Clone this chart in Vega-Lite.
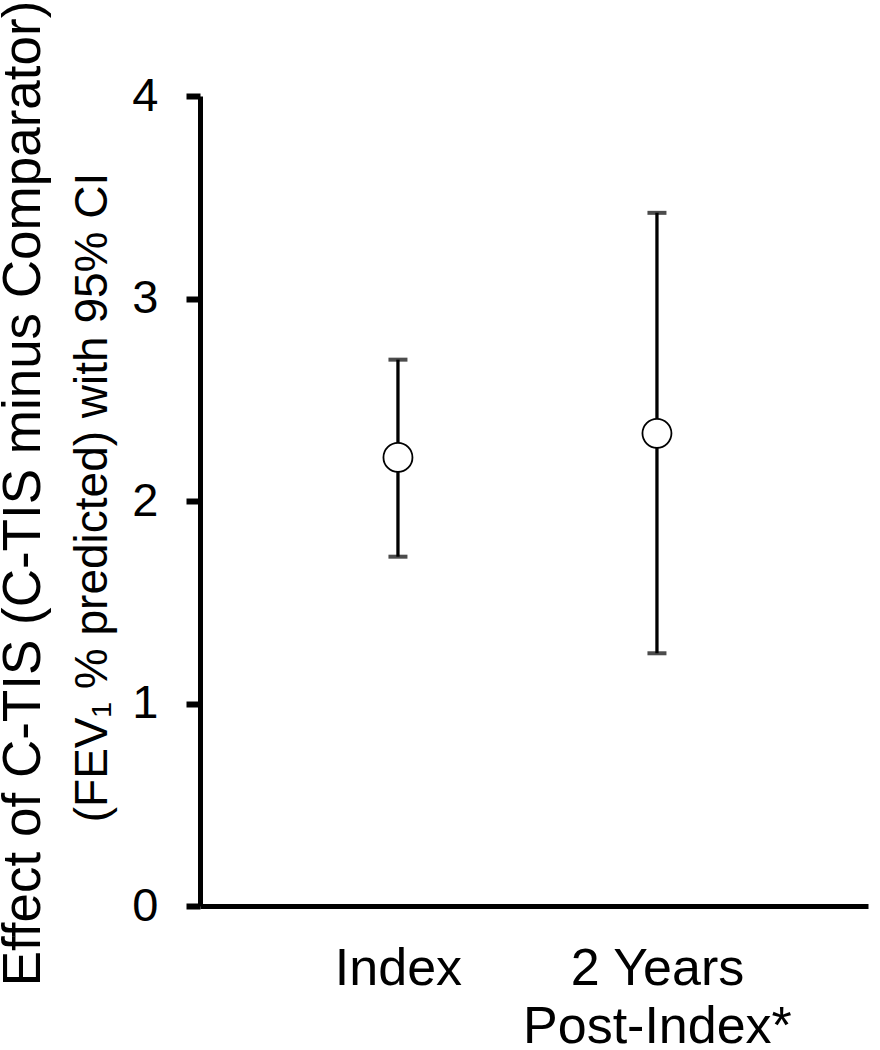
{
  "$schema": "https://vega.github.io/schema/vega-lite/v6.json",
  "autosize": "none",
  "padding": {"left": 200, "top": 96, "right": 12, "bottom": 144},
  "width": 668,
  "height": 810,
  "background": "white",
  "config": {"view": {"stroke": null}, "font": "Liberation Sans"},
  "data": {"values": [
    {"period": "Index", "est": 2.215, "lo": 1.725, "hi": 2.698},
    {"period": "2 Years|Post-Index*", "est": 2.334, "lo": 1.248, "hi": 3.423}
  ]},
  "encoding": {
    "x": {"field": "period", "type": "nominal", "sort": null,
      "scale": {"type": "point", "padding": 0.7896, "align": 0.484},
      "axis": {"title": null, "labelAngle": 0, "labelExpr": "split(datum.label, '|')",
        "labelFont": "Liberation Sans", "labelFontSize": 52, "labelColor": "black",
        "labelLineHeight": 58, "labelPadding": 37, "labelBaseline": "top", "labelLimit": 0,
        "ticks": false, "tickSize": 0, "domainColor": "black", "domainWidth": 5, "grid": false}}
  },
  "resolve": {"axis": {"y": "independent"}},
  "layer": [
    {"mark": {"type": "rule", "color": "black", "strokeWidth": 3.3},
     "encoding": {
       "y": {"field": "lo", "type": "quantitative",
         "scale": {"domain": [0, 4], "nice": false, "zero": false},
         "axis": {"values": [0, 1, 2, 3, 4], "format": "d", "grid": false,
           "title": "Effect of C-TIS (C-TIS minus Comparator)",
           "titleFont": "Liberation Sans", "titleFontSize": 53, "titleFontWeight": "normal", "titleColor": "black",
           "titleAngle": -90, "titleAlign": "center", "titleBaseline": "alphabetic",
           "titleX": -161, "titleY": 397,
           "labelFont": "Liberation Sans", "labelFontSize": 47, "labelColor": "black", "labelPadding": 28,
           "tickSize": 14, "tickWidth": 6, "tickColor": "black",
           "domainColor": "black", "domainWidth": 5}},
       "y2": {"field": "hi"}
     }},
    {"mark": {"type": "tick", "color": "black", "size": 19, "thickness": 4, "orient": "horizontal"},
     "encoding": {"y": {"field": "lo", "type": "quantitative", "axis": null}}},
    {"mark": {"type": "tick", "color": "black", "size": 19, "thickness": 4, "orient": "horizontal"},
     "encoding": {"y": {"field": "hi", "type": "quantitative", "axis": null}}},
    {"mark": {"type": "point", "shape": "circle", "filled": true, "fill": "white", "stroke": "black", "strokeWidth": 1.8, "size": 841, "opacity": 1},
     "encoding": {"y": {"field": "est", "type": "quantitative",
       "axis": {"orient": "left", "labels": false, "ticks": false, "domain": false, "grid": false,
         "title": "(FEV₁ % predicted) with 95% CI",
         "titleFont": "Liberation Sans", "titleFontSize": 46, "titleFontWeight": "normal", "titleColor": "black",
         "titleAngle": -90, "titleAlign": "center", "titleBaseline": "alphabetic",
         "titleX": -94, "titleY": 401}}}}
  ]
}
